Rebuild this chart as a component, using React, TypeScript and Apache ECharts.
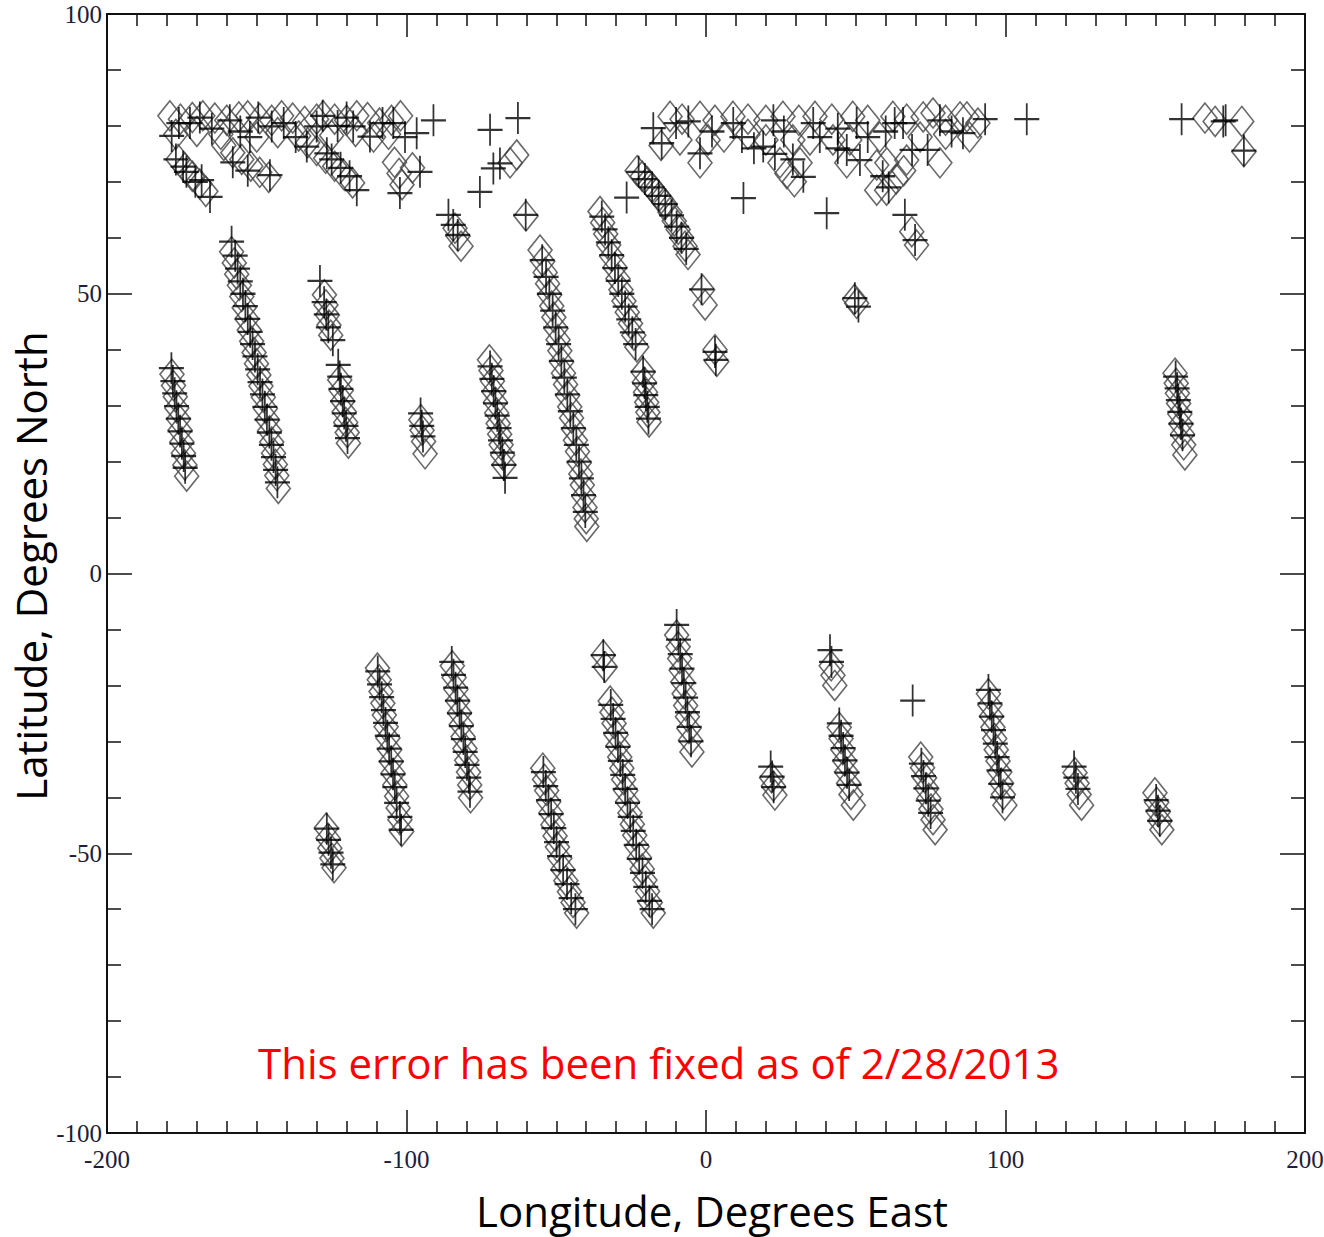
import React, { useEffect, useRef } from "react";
import * as echarts from "echarts";

// ---- axis ticks ----
const xTicks = [-200, -100, 0, 100, 200];
const yTicks = [-100, -50, 0, 50, 100];

// ---- Northern tracks (lon, lat) ----
const diamondsNorthTracks: number[][] = [
  // ~-176
  [-178.3, 35.6], [-177.8, 33.6], [-177.2, 31.6], [-176.7, 29.6], [-176.1, 27.6], [-175.6, 25.6], [-175.0, 23.5], [-174.5, 21.5], [-174.0, 19.4], [-173.4, 17.4],
  // ~-150
  [-158.4, 57.5], [-157.5, 55.5], [-156.7, 53.5], [-155.8, 51.5], [-155.0, 49.5], [-154.2, 47.5], [-153.3, 45.5], [-152.5, 43.5], [-151.7, 41.5], [-150.9, 39.5], [-150.1, 37.5],
  [-149.3, 35.5], [-148.6, 33.5], [-147.8, 31.5], [-147.1, 29.5], [-146.4, 27.5], [-145.7, 25.5], [-145.0, 23.5], [-144.4, 21.5], [-143.8, 19.5], [-143.3, 17.5], [-142.8, 15.2],
  // ~-124
  [-127.4, 49.8], [-126.9, 48.0], [-126.4, 46.2], [-125.9, 44.4], [-125.3, 42.6],
  [-122.3, 34.6], [-121.8, 32.7], [-121.3, 30.8], [-120.8, 28.9], [-120.3, 27.0], [-119.8, 25.2], [-119.4, 23.3],
  // ~-95
  [-95.2, 27.5], [-94.8, 25.6], [-94.3, 23.6], [-93.8, 21.4],
  // ~-70
  [-72.3, 38.2], [-71.8, 36.3], [-71.3, 34.4], [-70.8, 32.5], [-70.3, 30.6], [-69.9, 28.7], [-69.4, 26.8], [-68.9, 24.9], [-68.4, 23.0], [-67.9, 21.2], [-67.5, 19.4],
  // ~-47 long curved
  [-55.4, 57.8], [-54.5, 55.8], [-53.7, 53.8], [-52.9, 51.8], [-52.2, 49.8], [-51.5, 47.8], [-50.8, 45.8], [-50.1, 43.8], [-49.4, 41.8], [-48.8, 39.8], [-48.2, 37.8], [-47.6, 35.8], [-46.9, 33.8],
  [-46.2, 31.8], [-45.5, 29.8], [-44.9, 27.8], [-44.2, 25.8], [-43.6, 23.8], [-42.9, 21.8], [-42.3, 19.8], [-41.8, 17.8], [-41.3, 15.8], [-40.8, 13.8], [-40.4, 11.8], [-40.0, 9.8], [-39.8, 8.4],
  // ~-29
  [-35.4, 64.7], [-34.5, 62.7], [-33.5, 60.7], [-32.5, 58.7], [-31.5, 56.7], [-30.4, 54.7], [-29.4, 52.7], [-28.4, 50.7], [-27.4, 48.7], [-26.3, 46.7], [-25.2, 44.7], [-24.1, 42.6], [-23.1, 40.5],
  // ~-20
  [-21.0, 36.0], [-20.6, 34.2], [-20.2, 32.4], [-19.8, 30.6], [-19.4, 28.8], [-19.0, 27.1],
  // ~-14 curve from the polar band
  [-23.0, 72.0], [-21.3, 71.0], [-19.6, 70.0], [-18.0, 69.0], [-16.5, 68.0], [-15.0, 67.0], [-13.6, 66.0], [-12.0, 64.5], [-10.6, 63.0], [-9.3, 61.5], [-8.1, 60.0], [-7.0, 58.5], [-6.0, 57.0],
  // small groups
  [-1.1, 50.7], [-0.3, 48.0], [3.0, 40.0], [3.6, 37.9],
  [-83.8, 61.7], [-82.8, 60.3], [-81.8, 58.5], [-60.1, 63.9], [-63.2, 74.8], [-65.4, 73.4],
  [49.6, 49.0], [50.3, 48.3], [68.7, 61.1], [70.3, 58.7],
  // ~158
  [156.6, 35.8], [157.0, 34.0], [157.4, 32.2], [157.8, 30.4], [158.2, 28.5], [158.6, 26.7], [159.1, 24.9], [159.5, 23.0], [159.9, 21.2],
];

const crossesNorthTracks: number[][] = [
  [-178.5, 36.7], [-178.0, 34.4], [-177.4, 32.2], [-176.8, 29.9], [-176.2, 27.7], [-175.6, 25.4], [-175.0, 23.2], [-174.4, 21.0], [-173.9, 18.9],
  [-158.4, 59.3], [-157.2, 56.8], [-156.4, 54.5], [-155.5, 52.2], [-154.6, 50.0], [-153.8, 47.8], [-153.0, 45.5], [-152.2, 43.2], [-151.4, 41.0], [-150.6, 38.8],
  [-149.7, 36.5], [-148.9, 34.2], [-148.1, 32.0], [-147.3, 29.8], [-146.6, 27.5], [-145.8, 25.2], [-145.1, 23.0], [-144.4, 20.8], [-143.7, 18.5], [-143.1, 16.3],
  [-128.9, 52.3], [-127.5, 48.5], [-126.8, 46.3], [-126.1, 44.0], [-124.6, 41.7], [-122.8, 37.3], [-122.3, 35.2], [-121.9, 33.0], [-121.3, 30.8], [-120.8, 28.6], [-120.2, 26.4], [-119.7, 24.2],
  [-95.3, 28.6], [-94.9, 26.4], [-94.5, 24.5],
  [-72.1, 37.0], [-71.5, 34.8], [-70.9, 32.6], [-70.3, 30.4], [-69.7, 28.2], [-69.1, 26.0], [-68.6, 23.8], [-68.0, 21.6], [-67.5, 19.4], [-67.1, 17.1],
  [-54.7, 56.0], [-53.4, 53.0], [-52.3, 50.0], [-51.2, 47.0], [-50.2, 44.0], [-49.2, 41.0], [-48.3, 38.0], [-47.3, 35.0], [-46.3, 32.0], [-45.3, 29.0], [-44.3, 26.0], [-43.3, 23.0],
  [-42.4, 20.0], [-41.6, 17.0], [-40.9, 14.0], [-40.3, 11.0],
  [-34.8, 63.8], [-33.7, 61.5], [-32.6, 59.2], [-31.5, 56.9], [-30.4, 54.6], [-29.3, 52.3], [-28.1, 50.0], [-27.0, 47.7], [-25.8, 45.4], [-24.6, 43.1], [-23.5, 41.0],
  [-21.0, 36.1], [-20.5, 34.0], [-20.1, 31.9], [-19.6, 29.8], [-19.2, 27.7],
  [-22.5, 71.8], [-20.4, 70.5], [-18.0, 69.0], [-15.8, 67.5], [-13.6, 66.0], [-11.5, 64.0], [-9.8, 62.0], [-8.2, 60.0], [-6.6, 58.0],
  [-1.5, 50.8], [3.0, 39.6], [3.3, 38.2],
  [-86.0, 64.1], [-84.4, 62.3], [-82.9, 60.5], [-75.5, 68.2], [-60.2, 64.1], [-26.5, 67.2], [12.5, 67.1], [40.3, 64.4],
  [49.7, 49.2], [50.9, 47.7], [66.4, 64.1], [69.8, 59.6], [-72.1, 79.3], [-71.0, 72.4], [-68.8, 73.3], [-62.8, 81.4],
  [156.8, 35.2], [157.3, 33.1], [157.7, 31.0], [158.2, 28.9], [158.6, 26.8], [159.1, 24.7],
];

// ---- Polar band (lon, lat) ----
const diamondsPolarBand: number[][] = [
  [-179, 81.8], [-175.5, 81.2], [-171.5, 81.5], [-168, 81.8], [-164, 81.4], [-160, 81.0], [-156, 81.6], [-153, 81.8], [-149, 81.3], [-145, 81.0], [-141.7, 81.8],
  [-138, 81.4], [-134, 80.8], [-130, 81.2], [-127.8, 81.8], [-124, 81.2], [-120, 81.0], [-116.6, 81.8], [-113, 81.5], [-109, 80.5], [-105, 81.0], [-102, 81.8],
  [-177, 78.5], [-170, 79.0], [-162, 78.5], [-150, 78.0], [-143, 78.8], [-136, 78.2], [-125, 78.3], [-117, 79.0], [-111, 78.0], [-106, 78.5],
  [-176.3, 74.0], [-174, 72.5], [-171.5, 71.0], [-169, 69.6], [-167, 68.3],
  [-161, 76.5], [-158, 75.2], [-155, 74.0], [-152, 72.8], [-149, 71.7], [-146, 70.8],
  [-133, 77.0], [-130, 75.6], [-127, 74.2], [-124, 72.8], [-121, 71.3], [-118, 69.8],
  [-104, 73.5], [-102.5, 71.5], [-101.5, 69.5], [-98, 72.5],
  [-12, 81.7], [-8, 81.2], [-2, 81.7], [3, 81.0], [9, 81.7], [14, 81.2], [20, 81.0], [25.7, 81.7], [31, 81.0], [36.4, 81.7], [42, 81.2], [49, 81.7], [54, 81.0],
  [62.4, 81.7], [67, 81.2], [72.5, 81.6], [75.8, 82.3], [80, 81.0], [84.8, 81.6], [87.1, 81.6], [90.8, 80.5],
  [-15, 76.5], [-8.7, 77.5], [0.7, 77.5], [6, 78.0], [14, 78.5], [20, 77.5], [29, 77.5], [34.7, 77.5], [42.4, 77.5], [48, 77.5], [58, 78.0], [71.5, 78.0], [80, 78.5], [88, 78.0],
  [-2, 73.4], [24.7, 73.4], [31.4, 73.4], [47, 73.4], [57, 73.0], [60.4, 73.4], [67, 73.9], [78.1, 73.4],
  [27, 71.5], [29.5, 70.0], [57, 68.5], [60.3, 68.5], [63.5, 70.5], [66, 72.0],
  [166.6, 81.4], [170, 80.8], [178.9, 80.8], [179.6, 75.4],
];

const crossesPolarBand: number[][] = [
  [-178.4, 78.2], [-176, 80.5], [-172.3, 80.5], [-169, 81.5], [-165, 79.5], [-159, 81.0], [-155.5, 79.0], [-152.3, 78.0], [-149.5, 81.5], [-145, 79.9], [-141, 80.5],
  [-137, 78.0], [-133.3, 76.3], [-130, 79.9], [-128, 81.8], [-126.6, 75.1], [-123, 80.0], [-120, 81.5], [-117.8, 79.9], [-112.2, 78.1], [-108, 80.5], [-104.4, 80.5],
  [-100.5, 78.0], [-96.6, 78.7], [-91, 81.0],
  [-177, 74.0], [-174.6, 72.7], [-173.5, 71.8], [-170.5, 70.0], [-168.4, 70.3], [-165.6, 67.3], [-158, 73.5], [-153, 72.0], [-145.6, 71.2], [-125, 74.0], [-122, 72.5],
  [-119, 71.0], [-116.6, 68.5], [-102.2, 68.0], [-95.5, 71.8],
  [-17.6, 79.6], [-14.8, 76.9], [-10, 80.5], [-5.9, 80.8], [-2, 75.1], [2, 79.0], [9.1, 80.5], [12, 78.0], [16, 76.0], [19.1, 76.3], [22.5, 81.0], [26, 79.0], [29, 74.0],
  [32.5, 70.9], [35.8, 80.5], [38, 78.0], [44, 79.5], [47, 75.7], [50.3, 80.5], [51.4, 73.9], [54, 78.0], [60, 79.0], [63, 80.5], [65.8, 80.5], [68.8, 75.7], [74, 75.7],
  [78.1, 81.0], [82, 79.0], [85.8, 78.7], [93.2, 81.2], [107.1, 81.2], [59, 71.0], [61, 69.0], [44, 76.0], [23, 75.0],
  [158.8, 81.2], [172.7, 80.8], [173.5, 81.0], [179.6, 75.6],
];

// ---- Southern tracks (lon, lat) ----
const diamondsSouth: number[][] = [
  [-126.8, -45.5], [-126.2, -47.3], [-125.6, -49.1], [-124.9, -50.9], [-124.2, -52.6],
  [-109.7, -16.9], [-109.1, -19.0], [-108.5, -21.1], [-107.9, -23.2], [-107.4, -25.3], [-106.8, -27.4], [-106.2, -29.4], [-105.6, -31.5], [-105.1, -33.6], [-104.5, -35.7],
  [-103.9, -37.8], [-103.3, -39.8], [-102.8, -41.9], [-102.2, -44.0], [-101.6, -46.1],
  [-84.7, -16.5], [-84.1, -18.6], [-83.5, -20.7], [-82.9, -22.8], [-82.3, -24.9], [-81.7, -27.0], [-81.1, -29.2], [-80.5, -31.3], [-79.9, -33.4], [-79.3, -35.5], [-78.9, -37.8], [-78.6, -40.1],
  [-54.5, -34.8], [-53.9, -36.8], [-53.2, -38.8], [-52.5, -40.8], [-51.8, -42.8], [-51.1, -44.9], [-50.4, -46.9], [-49.6, -48.9], [-48.8, -50.9], [-47.8, -52.9], [-46.8, -54.9], [-45.6, -56.9], [-44.4, -58.8], [-43.2, -60.7],
  [-34.3, -14.6], [-33.6, -16.7],
  [-32.0, -22.8], [-31.4, -24.8], [-30.7, -26.8], [-30.0, -28.8], [-29.4, -30.8], [-28.8, -32.8], [-28.1, -34.8], [-27.5, -36.8], [-26.8, -38.8], [-26.2, -40.8], [-25.4, -42.8],
  [-24.6, -44.8], [-23.8, -46.8], [-23.0, -48.8], [-22.2, -50.8], [-21.3, -52.8], [-20.4, -54.8], [-19.5, -56.8], [-18.6, -58.8], [-17.6, -60.7],
  [-9.8, -11.0], [-9.3, -13.1], [-8.8, -15.2], [-8.3, -17.3], [-7.8, -19.4], [-7.3, -21.5], [-6.8, -23.6], [-6.2, -25.6], [-5.7, -27.7], [-5.2, -29.8], [-4.7, -31.9],
  [21.9, -36.5], [22.5, -38.0], [23.0, -39.6],
  [41.8, -16.5], [42.4, -18.2], [43.0, -20.0],
  [44.5, -27.5], [45.1, -29.5], [45.7, -31.5], [46.3, -33.5], [46.9, -35.5], [47.6, -37.5], [48.4, -39.5], [49.2, -41.4],
  [71.7, -32.8], [72.3, -34.7], [73.0, -36.5], [73.7, -38.4], [74.4, -40.2], [75.1, -42.1], [75.8, -44.0], [76.5, -45.8],
  [94.3, -21.5], [94.8, -23.5], [95.3, -25.5], [95.8, -27.5], [96.4, -29.5], [96.9, -31.5], [97.5, -33.5], [98.1, -35.5], [98.7, -37.5], [99.3, -39.5], [99.8, -41.4],
  [123.2, -35.6], [123.9, -37.5], [124.6, -39.5], [125.4, -41.4],
  [149.9, -39.2], [150.5, -40.9], [151.0, -42.6], [151.6, -44.2], [152.2, -45.8],
];

const crossesSouth: number[][] = [
  [-126.6, -45.6], [-126.0, -47.6], [-125.2, -49.9], [-124.6, -52.0],
  [-109.6, -17.5], [-109.0, -19.8], [-108.3, -22.1], [-107.7, -24.4], [-107.0, -26.7], [-106.4, -29.0], [-105.8, -31.3], [-105.1, -33.6], [-104.5, -35.9], [-103.9, -38.2],
  [-103.3, -41.0], [-102.2, -43.5], [-101.8, -45.8],
  [-84.9, -15.8], [-84.3, -18.1], [-83.6, -20.4], [-83.0, -22.7], [-82.3, -25.0], [-81.7, -27.3], [-81.0, -29.6], [-80.4, -31.9], [-79.8, -34.2], [-79.2, -36.5], [-78.8, -39.0],
  [-54.3, -35.5], [-53.5, -38.0], [-52.6, -40.5], [-51.7, -43.0], [-50.8, -45.5], [-49.9, -48.0], [-48.9, -50.5], [-47.7, -53.0], [-46.4, -55.5], [-45.0, -58.0], [-43.6, -60.0],
  [-34.3, -14.6], [-34.0, -16.7],
  [-31.8, -23.5], [-31.0, -26.0], [-30.2, -28.5], [-29.4, -31.0], [-28.6, -33.5], [-27.8, -36.0], [-27.0, -38.5], [-26.2, -41.0], [-25.3, -43.5], [-24.3, -46.0],
  [-23.3, -48.5], [-22.3, -51.0], [-21.2, -53.5], [-20.1, -56.0], [-18.9, -58.5], [-18.0, -60.0],
  [-9.8, -9.2], [-9.2, -11.8], [-8.6, -14.4], [-8.0, -17.0], [-7.4, -19.6], [-6.8, -22.2], [-6.2, -24.8], [-5.6, -27.4], [-5.0, -30.0],
  [21.6, -34.5], [22.1, -36.3], [22.6, -38.2],
  [41.4, -13.7], [41.9, -15.8],
  [44.5, -26.8], [45.1, -29.0], [45.8, -31.2], [46.4, -33.4], [47.1, -35.6], [47.8, -37.8],
  [69.0, -22.7],
  [71.9, -34.0], [72.6, -36.2], [73.4, -38.4], [74.2, -40.6], [75.0, -42.8],
  [94.3, -20.8], [94.8, -23.2], [95.4, -25.6], [96.0, -28.0], [96.6, -30.4], [97.2, -32.8], [97.8, -35.2], [98.4, -37.6], [99.0, -40.0],
  [122.9, -34.5], [123.5, -36.5], [124.2, -38.5],
  [150.3, -40.5], [150.9, -42.4], [151.5, -44.2],
];

const diamondPoints = [...diamondsPolarBand, ...diamondsNorthTracks, ...diamondsSouth];
const crossPoints = [...crossesPolarBand, ...crossesNorthTracks, ...crossesSouth];

const titleX = "Longitude, Degrees East";
const titleY = "Latitude, Degrees North";
const note = "This error has been fixed as of 2/28/2013";

export default function App() {
  const ref = useRef<HTMLDivElement>(null);
  useEffect(() => {
    if (!ref.current) return;
    const chart = echarts.init(ref.current, undefined, { renderer: "svg" });
    const labelFont = { fontFamily: "Liberation Serif", fontSize: 25, color: "#1e1e38" };
    const baseX = {
      type: "value" as const,
      min: xTicks[0],
      max: xTicks[xTicks.length - 1],
      interval: 100,
      axisLine: { show: true, onZero: false, lineStyle: { color: "#111", width: 2 } },
      axisTick: { show: true, inside: true, length: 23, lineStyle: { color: "#111", width: 1.5 } },
      minorTick: { show: true, splitNumber: 10, length: 12, lineStyle: { color: "#111", width: 1.5 } },
      splitLine: { show: false },
    };
    const baseY = {
      type: "value" as const,
      min: yTicks[0],
      max: yTicks[yTicks.length - 1],
      interval: 50,
      axisLine: { show: true, onZero: false, lineStyle: { color: "#111", width: 2 } },
      axisTick: { show: true, inside: true, length: 25, lineStyle: { color: "#111", width: 1.5 } },
      minorTick: { show: true, splitNumber: 5, length: 14, lineStyle: { color: "#111", width: 1.5 } },
      splitLine: { show: false },
    };
    chart.setOption({
      animation: false,
      backgroundColor: "#fff",
      grid: { left: 107, top: 14, width: 1198, height: 1119, containLabel: false, outerBoundsMode: "none" },
      xAxis: [
        { ...baseX, position: "bottom", axisLabel: { ...labelFont, margin: 14 } },
        { ...baseX, position: "top", axisLabel: { show: false } },
      ],
      yAxis: [
        { ...baseY, position: "left", axisLabel: { ...labelFont, margin: 5 } },
        { ...baseY, position: "right", axisLabel: { show: false } },
      ],
      series: [
        {
          type: "scatter",
          xAxisIndex: 0,
          yAxisIndex: 0,
          data: diamondPoints,
          symbol: "diamond",
          symbolSize: [24, 30],
          itemStyle: { color: "transparent", borderColor: "#444", borderWidth: 1.6 },
          silent: true,
        },
        {
          type: "scatter",
          xAxisIndex: 0,
          yAxisIndex: 0,
          data: crossPoints,
          symbol: "path://M5,0 L5,10 M0,5 L10,5",
          symbolSize: [25, 32],
          itemStyle: { color: "transparent", borderColor: "#000", borderWidth: 2 },
          silent: true,
        },
      ],
      graphic: [
        {
          type: "text",
          x: 258,
          y: 1062,
          style: { text: note, fill: "#ff0000", font: "42px 'Open Sans', sans-serif", textAlign: "left", textVerticalAlign: "middle" },
        },
        {
          type: "text",
          x: 712,
          y: 1210,
          style: { text: titleX, fill: "#000", font: "42px 'Open Sans', sans-serif", textAlign: "center", textVerticalAlign: "middle" },
        },
        {
          type: "text",
          x: 30,
          y: 566,
          rotation: Math.PI / 2,
          style: { text: titleY, fill: "#000", font: "42px 'Open Sans', sans-serif", textAlign: "center", textVerticalAlign: "middle" },
        },
      ],
    });
    return () => chart.dispose();
  }, []);
  return (
    <div
      ref={ref}
      style={{ position: "fixed", left: 0, top: 0, width: 1324, height: 1237, background: "#fff" }}
    />
  );
}
